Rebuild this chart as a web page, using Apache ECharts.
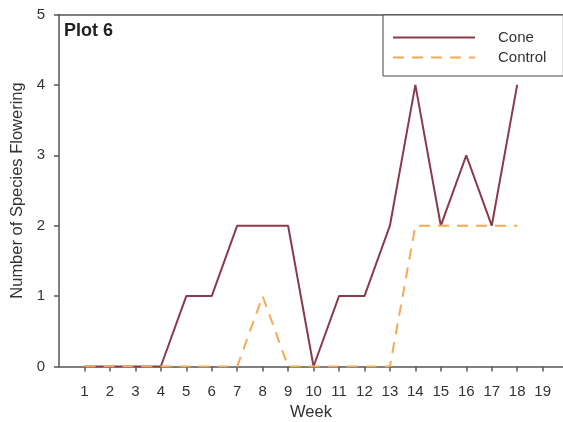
<!DOCTYPE html>
<html>
<head>
<meta charset="utf-8">
<script src="https://cdn.jsdelivr.net/npm/echarts@6/dist/echarts.min.js"></script>
<style>
  html, body { margin: 0; padding: 0; background: #fff; }
  #chart { width: 563px; height: 422px; }
</style>
</head>
<body>
<div id="chart"></div>
<script>
// Weekly counts of flowering species in plot 6
const weeks = [1, 2, 3, 4, 5, 6, 7, 8, 9, 10, 11, 12, 13, 14, 15, 16, 17, 18];
const coneValues = [0, 0, 0, 0, 1, 1, 2, 2, 2, 0, 1, 1, 2, 4, 2, 3, 2, 4];
const controlValues = [0, 0, 0, 0, 0, 0, 0, 1, 0, 0, 0, 0, 0, 2, 2, 2, 2, 2];
const weekTicks = [1, 2, 3, 4, 5, 6, 7, 8, 9, 10, 11, 12, 13, 14, 15, 16, 17, 18, 19];
const yTicks = [0, 1, 2, 3, 4, 5];

const font = 'Liberation Sans, Arial, sans-serif';
const axisGray = '#555';
const textColor = '#333';

const chart = echarts.init(document.getElementById('chart'), null, { renderer: 'canvas' });

chart.setOption({
  animation: false,
  backgroundColor: '#fff',
  title: {
    text: 'Plot 6',
    left: 59,
    top: 17,
    textStyle: { fontFamily: font, fontSize: 18, fontWeight: 'bold', color: '#222' }
  },
  legend: {
    orient: 'vertical',
    left: 383,
    top: 15,
    padding: [15, 17, 11, 9],
    itemWidth: 82,
    itemHeight: 16,
    itemGap: 5,
    backgroundColor: '#fff',
    borderColor: '#444',
    borderWidth: 1,
    borderRadius: 0,
    // only the line sample is shown in the legend, no marker
    itemStyle: { opacity: 0 },
    textStyle: { fontFamily: font, fontSize: 15, color: textColor, padding: [0, 0, 0, 18] },
    data: ['Cone', 'Control']
  },
  grid: { left: 59, right: 0, top: 14.5, bottom: 55.5, outerBoundsMode: 'none', containLabel: false },
  xAxis: [{
    type: 'value',
    min: 0,
    max: 19.8,
    interval: 1,
    name: 'Week',
    nameLocation: 'middle',
    nameGap: 37,
    nameTextStyle: { fontFamily: font, fontSize: 16.5, color: textColor },
    axisLine: { show: true, lineStyle: { color: axisGray, width: 1.5 } },
    axisTick: { show: true, length: 5, customValues: weekTicks, lineStyle: { color: axisGray, width: 1.5 } },
    axisLabel: { customValues: weekTicks, margin: 18, fontFamily: font, fontSize: 15, color: textColor },
    splitLine: { show: false }
  }, {
    type: 'value',
    position: 'top',
    min: 0,
    max: 19.8,
    axisLine: { show: true, onZero: false, lineStyle: { color: axisGray, width: 1.5 } },
    axisTick: { show: false },
    axisLabel: { show: false },
    splitLine: { show: false }
  }],
  yAxis: {
    type: 'value',
    min: 0,
    max: 5,
    interval: 1,
    name: 'Number of Species Flowering',
    nameLocation: 'middle',
    nameGap: 27,
    nameTextStyle: { fontFamily: font, fontSize: 16.5, color: textColor },
    axisLine: { show: true, lineStyle: { color: axisGray, width: 1.5 } },
    axisTick: { show: true, length: 5, customValues: yTicks, lineStyle: { color: axisGray, width: 1.5 } },
    axisLabel: { customValues: yTicks, margin: 14, fontFamily: font, fontSize: 15, color: textColor },
    splitLine: { show: false }
  },
  series: [{
    name: 'Cone',
    type: 'line',
    symbol: 'none',
    data: weeks.map((w, i) => [w, coneValues[i]]),
    lineStyle: { color: '#8a3b4b', width: 2 },
    itemStyle: { color: '#8a3b4b' },
    z: 2
  }, {
    name: 'Control',
    type: 'line',
    symbol: 'none',
    data: weeks.map((w, i) => [w, controlValues[i]]),
    lineStyle: { color: '#f4a959', width: 2, type: [11, 8] },
    itemStyle: { color: '#f4a959' },
    z: 3
  }]
});
</script>
</body>
</html>
